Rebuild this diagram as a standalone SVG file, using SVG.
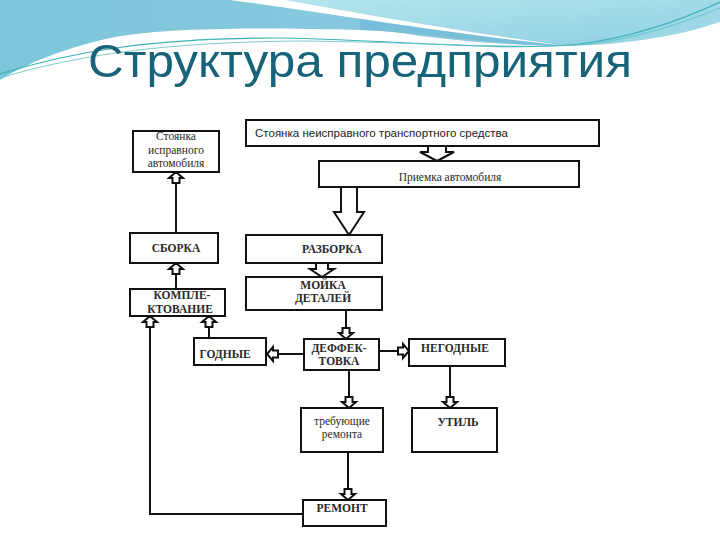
<svg xmlns="http://www.w3.org/2000/svg" xmlns:xlink="http://www.w3.org/1999/xlink" width="720" height="540" viewBox="0 0 720 540">
<defs>
<linearGradient id="gBlue" x1="0" y1="0" x2="1" y2="0">
<stop offset="0" stop-color="#7cc6d9"/>
<stop offset="0.5" stop-color="#88c8de"/>
<stop offset="1" stop-color="#9fd9e6"/>
</linearGradient>
<linearGradient id="gCyan" x1="0" y1="0" x2="1" y2="1">
<stop offset="0" stop-color="#b6e6ec"/>
<stop offset="1" stop-color="#8fd0e4"/>
</linearGradient>
<path id="sa" d="M-3.5,-11 H3.5 V-6 H7 L0,0 L-7,-6 H-3.5 Z"/>
<style>
.box{fill:#fff;stroke:#111;stroke-width:2}
.ln{fill:none;stroke:#111;stroke-width:2}
.ah{fill:#fff;stroke:#111;stroke-width:2;stroke-linejoin:miter}
.t{font-family:'Liberation Serif','DejaVu Serif',serif;font-size:11.5px;fill:#2a2a2a;text-anchor:middle}
.tb{font-weight:bold}
.s{font-family:'Liberation Sans',Arial,sans-serif;font-size:11px;fill:#222}
</style>
</defs>
<rect x="0" y="0" width="720" height="540" fill="#ffffff"/>
<g id="background">
<path d="M0,0 H720 V22 C680,36 620,46 560,46 C480,44 420,32 360,30 C250,27 160,28 110,38 C65,48 25,64 0,80 Z" fill="url(#gBlue)"/>
<path d="M250,0 H720 V8 C680,25 630,40 560,44 C470,36 380,16 300,4 Z" fill="url(#gCyan)"/>
<path d="M360,18 C430,28 500,40 560,45 C520,46 470,42 420,36 C400,32 380,30 360,30 Z" fill="#74bcd8" opacity="0.8"/>
<path d="M230,0 C320,12 450,34 560,45 C450,30 340,10 285,0 Z" fill="#ffffff"/>
<path d="M0,74 C70,52 150,38 280,38 C400,40 500,52 580,44 C640,36 690,16 720,2" fill="none" stroke="#3fb0b8" stroke-width="1.2"/>
<path d="M0,78 C80,54 170,42 300,41 C420,42 520,50 590,44 C650,36 695,18 720,8" fill="none" stroke="#5cc0c4" stroke-width="0.8"/>
</g>
<text x="88" y="77" font-family="'Liberation Sans',Arial,sans-serif" font-size="47" fill="#17637a" textLength="544" lengthAdjust="spacingAndGlyphs">Структура предприятия</text>
<g id="connectors">
<polygon class="ah" points="428,146 446,146 446,152 454,152 437,161 420,152 428,152"/>
<polygon class="ah" points="341,187 357,187 357,212 364,212 349,235 334,212 341,212"/>
<polygon class="ah" points="316,263 328,263 328,269 334,269 322,277 310,269 316,269"/>
<line class="ln" x1="176" y1="233" x2="176" y2="183"/>
<use xlink:href="#sa" class="ah" transform="translate(176,172) rotate(180)"/>
<line class="ln" x1="176" y1="289" x2="176" y2="274"/>
<use xlink:href="#sa" class="ah" transform="translate(176,263) rotate(180)"/>
<line class="ln" x1="209" y1="338" x2="209" y2="327"/>
<use xlink:href="#sa" class="ah" transform="translate(209,316) rotate(180)"/>
<path class="ln" d="M303,514 H150 V327"/>
<use xlink:href="#sa" class="ah" transform="translate(150,316) rotate(180)"/>
<line class="ln" x1="346" y1="310" x2="346" y2="328"/>
<use xlink:href="#sa" class="ah" transform="translate(346,339)"/>
<line class="ln" x1="304" y1="354" x2="278" y2="354"/>
<use xlink:href="#sa" class="ah" transform="translate(267,354) rotate(90)"/>
<line class="ln" x1="379" y1="351" x2="398" y2="351"/>
<use xlink:href="#sa" class="ah" transform="translate(409,351) rotate(-90)"/>
<line class="ln" x1="349" y1="370" x2="349" y2="397"/>
<use xlink:href="#sa" class="ah" transform="translate(349,408)"/>
<line class="ln" x1="450" y1="367" x2="450" y2="397"/>
<use xlink:href="#sa" class="ah" transform="translate(450,408)"/>
<line class="ln" x1="348" y1="452" x2="348" y2="489"/>
<use xlink:href="#sa" class="ah" transform="translate(348,500)"/>
</g>
<g id="stoyanka-ispr">
<rect class="box" x="133" y="131" width="86" height="41"/>
<text class="t" x="176" y="140" font-family="'Liberation Serif',serif" font-size="12">Стоянка</text>
<text class="t" x="176" y="154" font-family="'Liberation Serif',serif" font-size="12">исправного</text>
<text class="t" x="176" y="167" font-family="'Liberation Serif',serif" font-size="12">автомобиля</text>
</g>
<g id="stoyanka-neispr">
<rect class="box" x="246" y="120" width="353" height="26"/>
<text class="s" x="255" y="137" textLength="253" lengthAdjust="spacingAndGlyphs">Стоянка неисправного транспортного средства</text>
</g>
<g id="priemka">
<rect class="box" x="319" y="161" width="260" height="26"/>
<text class="t" x="450" y="181" font-family="'Liberation Serif',serif" font-size="12.5">Приемка автомобиля</text>
</g>
<g id="razborka">
<rect class="box" x="246" y="235" width="136" height="28"/>
<text class="t tb" x="332" y="253" font-family="'Liberation Serif',serif">РАЗБОРКА</text>
</g>
<g id="moyka">
<rect class="box" x="246" y="277" width="136" height="33"/>
<text class="t tb" x="323" y="289" font-family="'Liberation Serif',serif">МОЙКА</text>
<text class="t tb" x="323" y="302" font-family="'Liberation Serif',serif">ДЕТАЛЕЙ</text>
</g>
<g id="sborka">
<rect class="box" x="130" y="233" width="88" height="30"/>
<text class="t tb" x="176" y="252" font-family="'Liberation Serif',serif">СБОРКА</text>
</g>
<g id="komplektovanie">
<rect class="box" x="130" y="289" width="95" height="27"/>
<text class="t tb" x="182" y="299" font-family="'Liberation Serif',serif">КОМПЛЕ-</text>
<text class="t tb" x="180" y="313" font-family="'Liberation Serif',serif">КТОВАНИЕ</text>
</g>
<g id="godnye">
<rect class="box" x="194" y="338" width="72" height="27"/>
<text class="t tb" x="225" y="358" font-family="'Liberation Serif',serif">ГОДНЫЕ</text>
</g>
<g id="deffektovka">
<rect class="box" x="304" y="339" width="75" height="31"/>
<text class="t tb" x="339" y="352" font-family="'Liberation Serif',serif">ДЕФФЕК-</text>
<text class="t tb" x="339" y="365" font-family="'Liberation Serif',serif">ТОВКА</text>
</g>
<g id="negodnye">
<rect class="box" x="409" y="339" width="96" height="27"/>
<text class="t tb" x="455" y="352" font-family="'Liberation Serif',serif">НЕГОДНЫЕ</text>
</g>
<g id="trebuyushie">
<rect class="box" x="301" y="408" width="82" height="44"/>
<text class="t" x="342" y="425" font-family="'Liberation Serif',serif" font-size="12">требующие</text>
<text class="t" x="342" y="438" font-family="'Liberation Serif',serif" font-size="12">ремонта</text>
</g>
<g id="util">
<rect class="box" x="412" y="408" width="85" height="44"/>
<text class="t tb" x="458" y="426" font-family="'Liberation Serif',serif">УТИЛЬ</text>
</g>
<g id="remont">
<rect class="box" x="303" y="500" width="83" height="26"/>
<text class="t tb" x="342" y="512" font-family="'Liberation Serif',serif">РЕМОНТ</text>
</g>
</svg>
